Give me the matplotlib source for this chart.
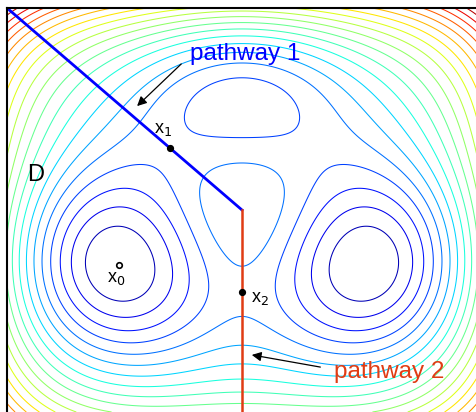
"""
Potencial de tres pozos con las dos rutas de transicion entre los minimos
"""
import numpy as np
import matplotlib.pyplot as plt

plt.rcParams["font.family"] = ["Liberation Sans", "DejaVu Sans"]

# Parametros del potencial (gaussianas + termino cuartico)
well_x = [0.0, 0.0, 1.0, -1.0]
well_y = [1 / 3, 5 / 3, 0.0, 0.0]
well_amp = [3.0, -3.0, -5.0, -5.0]
quartic = 0.2
# Dominio y numero de contornos
x_range = [-2.0, 2.0]
y_range = [-1.5, 2.5]
n_levels = 20
# Rutas
path1_x = [-2.0, 0.0]
path1_y = [2.5, 0.5]
path2_x = [0.0, 0.0]
path2_y = [0.5, -1.5]
# Puntos marcados
points = {"0": (-1.05, -0.045), "1": (-0.61, 1.11), "2": (0.0, -0.31)}

x = np.linspace(*x_range, 400)
y = np.linspace(*y_range, 400)
X, Y = np.meshgrid(x, y)
V = quartic * X ** 4 + quartic * (Y - 1 / 3) ** 4
for cx, cy, amp in zip(well_x, well_y, well_amp):
    V += amp * np.exp(-(X - cx) ** 2 - (Y - cy) ** 2)
levels = np.linspace(V.min(), V.max(), n_levels + 2)[1:-1]

fig = plt.figure(figsize=(4.77, 4.12), dpi=100)
ax = fig.add_axes([7 / 477, 0, 1 - 7 / 477, 1 - 8 / 412])
ax.contour(X, Y, V, levels=levels, cmap="jet", vmin=V.min(), vmax=V.max(),
           linewidths=0.75)
ax.plot(path1_x, path1_y, color="#0000ff", lw=2)
ax.plot(path2_x, path2_y, color="#e03c14", lw=1.8)
for name, (px, py) in points.items():
    ax.plot(px, py, "o", ms=4, mfc="white" if name == "0" else "black",
            mec="black", mew=1.2)
ax.text(-1.07, -0.18, "x$_0$", fontsize=13, ha="center", va="center")
ax.text(-0.67, 1.3, "x$_1$", fontsize=13, ha="center", va="center")
ax.text(0.08, -0.38, "x$_2$", fontsize=13, ha="left", va="center")
ax.text(-1.76, 0.85, "D", fontsize=17, ha="center", va="center")
ax.text(-0.44, 2.04, "pathway 1", fontsize=17.5, color="#0000ff",
        ha="left", va="center")
ax.text(0.78, -1.1, "pathway 2", fontsize=17.5, color="#e03c14",
        ha="left", va="center")
ax.annotate("", xy=(-0.91, 1.51), xytext=(-0.5, 1.965),
            arrowprops=dict(arrowstyle="-|>", color="black", lw=0.9,
                            mutation_scale=14))
ax.annotate("", xy=(0.06, -0.93), xytext=(0.69, -1.06),
            arrowprops=dict(arrowstyle="-|>", color="black", lw=0.9,
                            mutation_scale=14))
ax.set_xlim(*x_range)
ax.set_ylim(*y_range)
ax.set_xticks([])
ax.set_yticks([])
ax.spines["right"].set_visible(False)
ax.spines["bottom"].set_visible(False)
ax.spines["left"].set_linewidth(1.5)
ax.spines["top"].set_linewidth(1.5)
fig.savefig("out.png", dpi=100)
